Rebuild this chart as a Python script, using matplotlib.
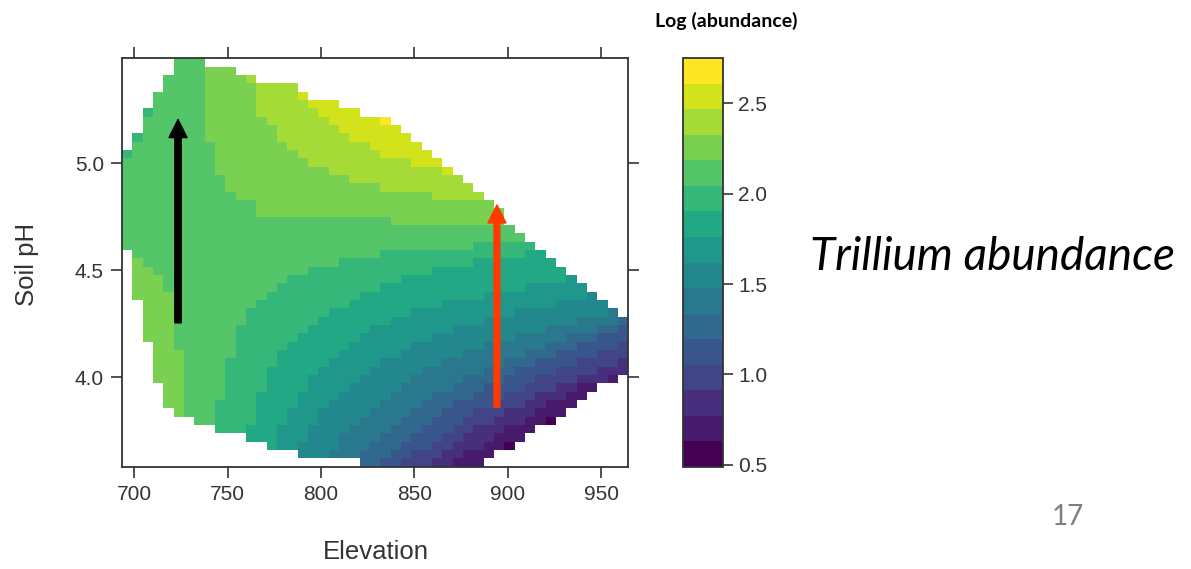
import numpy as np
import matplotlib
matplotlib.use("Agg")
import matplotlib.pyplot as plt
from matplotlib.colors import ListedColormap, BoundaryNorm

plt.rcParams["font.family"] = ["Liberation Sans", "DejaVu Sans"]

# axis ranges of the level plot
elevRange = (693.5, 964.5)
phRange = (3.583, 5.491)
nCols = 49
nRows = 49

# 16 colour classes of log(abundance)
levelBreaks = [0.489, 0.630, 0.772, 0.913, 1.054, 1.195, 1.337, 1.478, 1.619,
               1.760, 1.902, 2.043, 2.184, 2.325, 2.467, 2.608, 2.749]
cbTicks = [0.5, 1.0, 1.5, 2.0, 2.5]
xTicks = [700, 750, 800, 850, 900, 950]
yTicks = [4.0, 4.5, 5.0]

# one entry per grid row (top row first): "startCol:level ... |lastCol"
rows = [
    "5:11 |7",
    "5:11 8:12 |10",
    "4:11 8:12 12:13 |12",
    "4:11 8:12 13:13 |16",
    "3:11 8:12 13:13 17:14 |17",
    "3:11 8:12 13:13 18:14 |20",
    "2:10 3:11 8:12 13:13 19:14 |22",
    "2:11 8:12 14:13 20:14 25:15 |25",
    "2:11 8:12 15:13 21:14 |26",
    "1:10 2:11 8:12 15:13 22:14 |27",
    "1:11 9:12 16:13 24:14 |28",
    "0:10 1:11 9:12 17:13 25:14 |29",
    "0:11 9:12 18:13 28:14 |30",
    "0:11 9:12 20:13 31:14 |31",
    "0:11 10:12 22:13 |32",
    "0:11 10:12 25:13 |33",
    "0:11 11:12 30:13 |34",
    "0:11 13:12 |35",
    "0:11 13:12 |36",
    "0:11 26:12 |36",
    "0:11 |37",
    "0:11 |38",
    "0:11 34:10 |39",
    "1:11 25:10 39:9 |40",
    "1:12 2:11 21:10 34:9 |41",
    "1:12 3:11 18:10 30:9 |42",
    "1:12 4:11 16:10 27:9 43:8 |43",
    "1:12 4:11 15:10 25:9 39:8 |44",
    "1:12 5:11 14:10 23:9 35:8 45:7 |45",
    "2:12 5:11 13:10 22:9 31:8 42:7 |46",
    "2:12 5:11 12:10 20:9 28:8 38:7 47:6 |47",
    "2:12 5:11 12:10 19:9 26:8 35:7 44:6 48:5 |48",
    "2:12 5:11 11:10 18:9 24:8 32:7 41:6 46:5 48:4 |48",
    "2:12 5:11 11:10 17:9 23:8 30:7 38:6 43:5 46:4 |48",
    "3:12 5:11 11:10 16:9 22:8 28:7 35:6 41:5 44:4 48:3 |48",
    "3:12 6:11 11:10 15:9 21:8 27:7 33:6 39:5 42:4 46:3 |48",
    "3:12 6:11 10:10 15:9 20:8 25:7 31:6 37:5 40:4 44:3 48:2 |48",
    "3:12 6:11 10:10 14:9 19:8 24:7 29:6 35:5 38:4 42:3 46:2 |48",
    "3:12 6:11 10:10 14:9 18:8 23:7 28:6 33:5 37:4 40:3 44:2 47:1 |47",
    "4:12 6:11 10:10 14:9 18:8 22:7 27:6 32:5 35:4 39:3 42:2 44:1 |45",
    "4:12 6:11 10:10 13:9 17:8 21:7 26:6 30:5 34:4 37:3 40:2 43:1 |44",
    "4:12 6:11 9:10 13:9 17:8 20:7 25:6 29:5 32:4 36:3 39:2 41:1 |43",
    "5:12 6:11 9:10 13:9 16:8 19:7 24:6 28:5 31:4 34:3 37:2 40:1 |42",
    "7:11 9:10 13:9 16:8 19:7 23:6 27:5 30:4 33:3 36:2 39:1 41:0 |41",
    "9:10 12:9 15:8 18:7 22:6 26:5 29:4 32:3 34:2 37:1 |39",
    "12:9 15:8 18:7 21:6 25:5 28:4 31:3 33:2 36:1 |38",
    "14:9 15:8 17:7 21:6 24:5 27:4 30:3 32:2 35:1 37:0 |37",
    "17:7 20:6 23:5 26:4 28:3 31:2 33:1 |35",
    "23:5 25:4 27:3 30:2 32:1 |34",
]


def buildGrid(rowStrings):
    grid = np.full((nRows, nCols), np.nan)
    for r, s in enumerate(rowStrings):
        body, last = s.split("|")
        segs = [tuple(int(v) for v in p.split(":")) for p in body.split()]
        for i, (start, lvl) in enumerate(segs):
            end = segs[i + 1][0] - 1 if i + 1 < len(segs) else int(last)
            mid = (levelBreaks[lvl] + levelBreaks[lvl + 1]) / 2
            grid[r, start:end + 1] = mid
    return np.ma.masked_invalid(grid)


z = buildGrid(rows)
xEdges = np.linspace(elevRange[0], elevRange[1], nCols + 1)
yEdges = np.linspace(phRange[1], phRange[0], nRows + 1)

cmap = ListedColormap(plt.get_cmap("viridis")(np.linspace(0, 1, 16)))
norm = BoundaryNorm(levelBreaks, cmap.N)

fig = plt.figure(figsize=(11.91, 5.69), dpi=100)
ax = fig.add_axes([122 / 1191, 1 - 466.7 / 569, 506.3 / 1191, 408.4 / 569])
ax.pcolormesh(xEdges, yEdges, z, cmap=cmap, norm=norm, shading="flat")
ax.set_xlim(*elevRange)
ax.set_ylim(*phRange)
ax.set_xticks(xTicks)
ax.set_yticks(yTicks)
ax.set_yticklabels(["%.1f" % v for v in yTicks])
ax.tick_params(direction="out", length=8, width=1.2, top=True, right=True,
               labelsize=15, colors="#333333", pad=5)
for sp in ax.spines.values():
    sp.set_color("#333333")
    sp.set_linewidth(1.3)

# arrows drawn on the plot
ax.annotate("", xy=(723.5, 5.205), xytext=(723.5, 4.255),
            arrowprops=dict(width=4.6, headwidth=13, headlength=13, shrink=0,
                            color="black"))
ax.annotate("", xy=(894.2, 4.806), xytext=(894.2, 3.86),
            arrowprops=dict(width=4.2, headwidth=13, headlength=13, shrink=0,
                            color="#ff3a00"))

# colour key
cax = fig.add_axes([683 / 1191, 1 - 466.7 / 569, 40 / 1191, 408.4 / 569])
sm = plt.cm.ScalarMappable(cmap=cmap, norm=norm)
cb = fig.colorbar(sm, cax=cax, boundaries=levelBreaks, ticks=cbTicks)
cb.minorticks_off()
cb.ax.set_yticklabels(["%.1f" % v for v in cbTicks])
cb.ax.tick_params(direction="out", length=7, width=1.2, labelsize=15,
                  colors="#333333", pad=4)
cb.outline.set_edgecolor("#333333")
cb.outline.set_linewidth(1.3)

fig.text(376 / 1191, 1 - 552 / 569, "Elevation", ha="center", va="center",
         fontsize=18.5, color="#333333")
fig.text(27 / 1191, 1 - 264 / 569, "Soil pH", ha="center", va="center",
         rotation=90, fontsize=18.5, color="#333333")
fig.text(726 / 1191, 1 - 21 / 569, "Log (abundance)", ha="center", va="center",
         fontsize=14, fontweight="bold", family=["Lato", "DejaVu Sans"])
fig.text(810 / 1191, 1 - 257 / 569, "Trillium abundance", ha="left",
         va="center", fontsize=33, style="italic",
         family=["Lato", "DejaVu Sans"])
fig.text(1068 / 1191, 1 - 517 / 569, "17", ha="center", va="center",
         fontsize=20, color="#7f7f7f", family=["Lato", "DejaVu Sans"])

fig.savefig("out.png", dpi=100)
